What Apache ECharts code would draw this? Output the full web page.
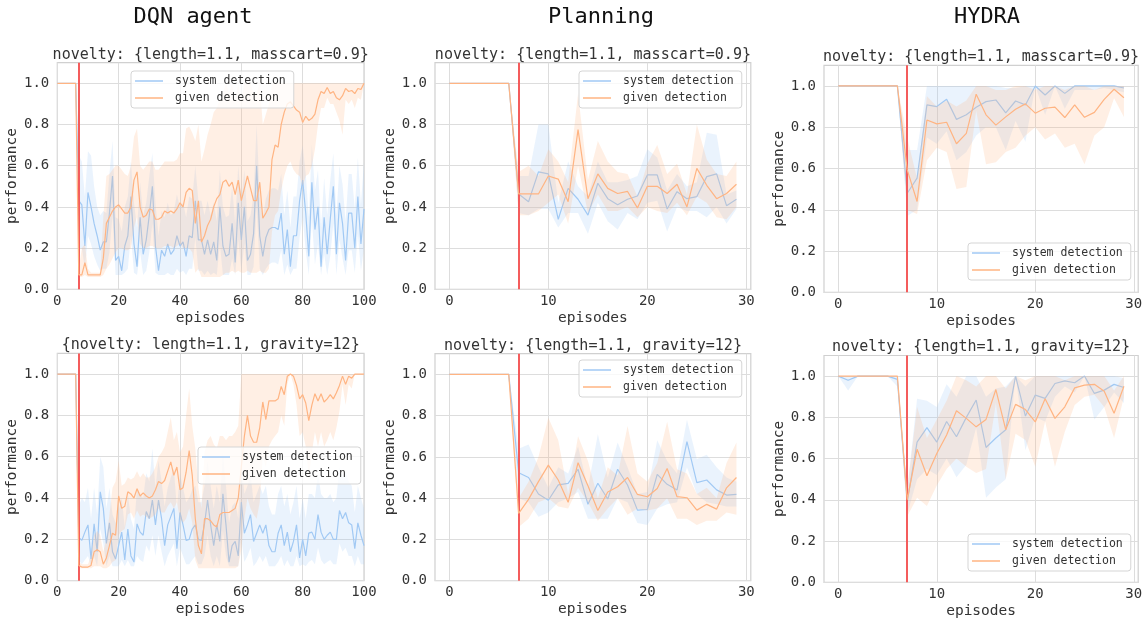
<!DOCTYPE html>
<html><head><meta charset="utf-8">
<script src="https://cdn.jsdelivr.net/npm/echarts@6/dist/echarts.min.js"></script>
<style>html,body{margin:0;padding:0;background:#fff}#c{width:1146px;height:625px}</style>
</head><body><div id="c"></div><script>
const FONT = '"DejaVu Sans Mono", monospace';
const SERIES_NAMES = ['system detection', 'given detection'];
const COLUMN_TITLES = ['DQN agent', 'Planning', 'HYDRA'];
const PANEL_TITLES = [
  'novelty: {length=1.1, masscart=0.9}', 'novelty: {length=1.1, masscart=0.9}', 'novelty: {length=1.1, masscart=0.9}',
  '{novelty: length=1.1, gravity=12}', 'novelty: {length=1.1, gravity=12}', 'novelty: {length=1.1, gravity=12}'
];
const X_TICKS_DQN = [0, 20, 40, 60, 80, 100];
const X_TICKS_SHORT = [0, 10, 20, 30];
const Y_TICKS = [0, 0.2, 0.4, 0.6, 0.8, 1.0];
const NOVELTY_EPISODE = 7;

// ---- DQN, masscart ----
const dqnMassSys = [1,1,1,1,1,1,1,
0.43,0.41,0.21,0.47,0.40,0.32,0.26,0.19,0.23,0.23,
0.37,0.55,0.14,0.16,0.09,0.21,0.26,0.45,0.22,0.11,
0.35,0.17,0.24,0.36,0.50,0.21,0.09,0.19,0.16,0.22,
0.17,0.19,0.26,0.21,0.23,0.16,0.26,0.25,0.43,0.24,
0.24,0.17,0.24,0.17,0.23,0.14,0.40,0.21,0.16,0.17,
0.32,0.13,0.42,0.24,0.40,0.14,0.17,0.27,0.60,0.26,
0.16,0.25,0.29,0.30,0.30,0.29,0.37,0.17,0.29,0.11,
0.26,0.26,0.43,0.53,0.37,0.16,0.52,0.29,0.40,0.11,
0.35,0.17,0.34,0.50,0.17,0.42,0.32,0.14,0.37,0.37,
0.20,0.45,0.22,0.39];
const dqnMassSysHi = [1,1,1,1,1,1,1,
0.65,0.62,0.45,0.67,0.65,0.50,0.40,0.36,0.38,0.37,
0.56,0.72,0.35,0.34,0.28,0.40,0.45,0.62,0.42,0.30,
0.52,0.36,0.42,0.55,0.66,0.42,0.26,0.38,0.35,0.42,
0.36,0.38,0.46,0.40,0.42,0.35,0.45,0.44,0.60,0.43,
0.43,0.36,0.43,0.36,0.42,0.33,0.58,0.40,0.35,0.36,
0.50,0.32,0.60,0.43,0.58,0.33,0.36,0.46,0.80,0.45,
0.35,0.44,0.48,0.49,0.49,0.48,0.56,0.36,0.48,0.30,
0.45,0.45,0.62,0.70,0.56,0.35,0.70,0.48,0.58,0.30,
0.54,0.36,0.53,0.66,0.36,0.60,0.51,0.33,0.56,0.56,
0.39,0.64,0.41,0.62];
const dqnMassSysLo = [1,1,1,1,1,1,1,
0.20,0.20,0.10,0.26,0.22,0.16,0.12,0.09,0.10,0.10,
0.18,0.36,0.07,0.07,0.07,0.08,0.10,0.26,0.08,0.07,
0.18,0.07,0.09,0.18,0.32,0.08,0.07,0.07,0.07,0.08,
0.07,0.07,0.10,0.08,0.09,0.07,0.10,0.10,0.25,0.09,
0.09,0.07,0.09,0.07,0.08,0.07,0.22,0.07,0.07,0.07,
0.15,0.07,0.24,0.09,0.22,0.07,0.07,0.11,0.40,0.10,
0.07,0.10,0.12,0.13,0.13,0.12,0.19,0.07,0.12,0.07,
0.10,0.10,0.25,0.35,0.19,0.07,0.34,0.12,0.22,0.07,
0.17,0.07,0.16,0.32,0.07,0.24,0.15,0.07,0.19,0.19,
0.08,0.27,0.09,0.20];
const dqnMassGiven = [1,1,1,1,1,1,1,
0.07,0.07,0.13,0.07,0.07,0.07,0.07,0.07,0.15,0.32,
0.35,0.38,0.40,0.41,0.39,0.37,0.37,0.40,0.53,0.57,
0.40,0.35,0.36,0.39,0.385,0.34,0.34,0.35,0.38,0.37,
0.38,0.37,0.39,0.42,0.40,0.47,0.49,0.48,0.32,0.43,
0.23,0.26,0.31,0.34,0.40,0.44,0.46,0.52,0.53,0.50,
0.52,0.46,0.53,0.43,0.49,0.55,0.49,0.43,0.43,0.52,
0.345,0.37,0.40,0.63,0.70,0.69,0.80,0.86,0.90,0.91,
0.89,0.87,0.86,0.81,0.84,0.82,0.83,0.85,0.92,0.96,
0.95,0.98,0.95,0.96,0.93,0.92,0.94,0.975,0.96,0.965,
0.95,0.975,0.97,1.0];
const dqnMassGivenHi = [1,1,1,1,1,1,1,
0.10,0.20,0.22,0.10,0.08,0.08,0.08,0.08,0.35,0.55,
0.56,0.58,0.60,0.60,0.58,0.56,0.55,0.60,0.74,0.78,
0.60,0.58,0.60,0.62,0.62,0.58,0.58,0.60,0.62,0.62,
0.62,0.62,0.63,0.66,0.66,0.78,0.79,0.76,0.72,0.80,
0.62,0.68,0.75,0.80,0.86,0.88,0.92,0.95,1.0,0.95,
1.0,0.92,1.0,0.92,1.0,1.0,1.0,0.95,0.95,1.0,
0.80,0.85,0.90,1.0,1.0,1.0,1.0,1.0,1.0,1.0,
1.0,1.0,1.0,1.0,1.0,1.0,1.0,1.0,1.0,1.0,
1.0,1.0,1.0,1.0,1.0,1.0,1.0,1.0,1.0,1.0,
1.0,1.0,1.0,1.0];
const dqnMassGivenLo = [1,1,1,1,1,1,1,
0.06,0.06,0.07,0.06,0.06,0.06,0.06,0.06,0.07,0.10,
0.12,0.15,0.18,0.20,0.20,0.19,0.19,0.20,0.30,0.35,
0.22,0.20,0.20,0.21,0.21,0.20,0.20,0.20,0.21,0.21,
0.21,0.20,0.21,0.22,0.20,0.20,0.20,0.18,0.08,0.10,
0.06,0.06,0.06,0.06,0.06,0.06,0.06,0.07,0.08,0.08,
0.09,0.08,0.09,0.08,0.08,0.09,0.08,0.08,0.08,0.09,
0.08,0.08,0.10,0.28,0.36,0.38,0.48,0.55,0.60,0.62,
0.58,0.56,0.55,0.50,0.55,0.56,0.60,0.68,0.80,0.88,
0.88,0.93,0.90,0.90,0.86,0.82,0.75,0.92,0.90,0.92,
0.88,0.93,0.92,1.0];

// ---- DQN, gravity ----
const dqnGravSys = [1,1,1,1,1,1,1,
0.21,0.195,0.235,0.27,0.105,0.275,0.14,0.43,0.35,0.18,
0.28,0.14,0.105,0.17,0.235,0.10,0.25,0.12,0.09,0.275,
0.235,0.22,0.335,0.30,0.39,0.27,0.39,0.30,0.17,0.27,
0.31,0.35,0.155,0.33,0.27,0.195,0.20,0.25,0.27,0.20,
0.195,0.275,0.39,0.27,0.17,0.27,0.19,0.42,0.27,0.09,
0.17,0.19,0.12,0.38,0.23,0.27,0.32,0.19,0.23,0.27,
0.23,0.27,0.17,0.14,0.14,0.23,0.27,0.17,0.235,0.14,
0.19,0.27,0.11,0.20,0.12,0.23,0.235,0.20,0.32,0.235,
0.20,0.22,0.235,0.20,0.20,0.34,0.30,0.33,0.28,0.27,
0.155,0.28,0.22,0.17];
const dqnGravSysHi = [1,1,1,1,1,1,1,
0.36,0.40,0.38,0.45,0.30,0.45,0.32,0.60,0.55,0.35,
0.45,0.32,0.28,0.34,0.40,0.26,0.42,0.30,0.25,0.45,
0.42,0.40,0.52,0.48,0.64,0.45,0.58,0.48,0.36,0.45,
0.50,0.54,0.35,0.52,0.45,0.38,0.40,0.44,0.46,0.38,
0.38,0.46,0.58,0.46,0.35,0.46,0.38,0.62,0.46,0.28,
0.36,0.38,0.30,0.58,0.42,0.46,0.52,0.38,0.42,0.46,
0.42,0.46,0.36,0.32,0.32,0.42,0.46,0.36,0.42,0.32,
0.38,0.46,0.30,0.40,0.30,0.42,0.42,0.40,0.52,0.42,
0.40,0.40,0.42,0.38,0.40,0.55,0.50,0.53,0.48,0.46,
0.33,0.46,0.40,0.35];
const dqnGravSysLo = [1,1,1,1,1,1,1,
0.10,0.08,0.10,0.12,0.07,0.12,0.07,0.25,0.18,0.07,
0.12,0.07,0.07,0.07,0.10,0.07,0.10,0.07,0.07,0.12,
0.10,0.09,0.17,0.14,0.22,0.12,0.22,0.14,0.07,0.12,
0.15,0.18,0.07,0.16,0.12,0.08,0.08,0.10,0.12,0.08,
0.08,0.12,0.22,0.12,0.07,0.12,0.07,0.24,0.12,0.07,
0.07,0.07,0.07,0.20,0.09,0.12,0.16,0.07,0.09,0.12,
0.09,0.12,0.07,0.07,0.07,0.09,0.12,0.07,0.10,0.07,
0.07,0.12,0.07,0.08,0.07,0.09,0.10,0.08,0.16,0.10,
0.08,0.09,0.10,0.08,0.08,0.18,0.14,0.16,0.12,0.12,
0.07,0.12,0.08,0.08];
const dqnGravGiven = [1,1,1,1,1,1,1,
0.074,0.066,0.066,0.066,0.074,0.14,0.15,0.14,0.08,0.11,
0.17,0.23,0.22,0.41,0.35,0.36,0.43,0.42,0.40,0.445,
0.41,0.425,0.41,0.40,0.41,0.44,0.48,0.47,0.485,0.53,
0.575,0.51,0.55,0.44,0.45,0.525,0.63,0.51,0.30,0.17,
0.13,0.30,0.30,0.29,0.27,0.26,0.32,0.33,0.33,0.33,
0.34,0.35,0.40,0.55,0.70,0.80,0.70,0.67,0.67,0.74,
0.865,0.78,0.87,0.87,0.87,0.88,0.94,0.90,0.99,1.0,
0.99,0.945,0.88,0.90,0.86,0.775,0.85,0.905,0.87,0.905,
0.865,0.88,0.90,0.88,0.91,0.945,0.99,0.95,0.99,0.98,
1.0,1.0,1.0,1.0];
const dqnGravGivenHi = [1,1,1,1,1,1,1,
0.09,0.08,0.08,0.08,0.12,0.22,0.24,0.22,0.14,0.20,
0.32,0.45,0.48,0.58,0.46,0.47,0.50,0.49,0.50,0.53,
0.50,0.52,0.50,0.50,0.52,0.55,0.60,0.62,0.65,0.72,
0.79,0.68,0.72,0.62,0.65,0.80,0.93,0.75,0.64,0.45,
0.35,0.62,0.68,0.70,0.66,0.64,0.70,0.70,0.68,0.70,
0.70,0.72,0.75,1.0,1.0,1.0,1.0,1.0,1.0,1.0,
1.0,1.0,1.0,1.0,1.0,1.0,1.0,1.0,1.0,1.0,
1.0,1.0,1.0,1.0,1.0,1.0,1.0,1.0,1.0,1.0,
1.0,1.0,1.0,1.0,1.0,1.0,1.0,1.0,1.0,1.0,
1.0,1.0,1.0,1.0];
const dqnGravGivenLo = [1,1,1,1,1,1,1,
0.06,0.06,0.06,0.06,0.06,0.07,0.07,0.07,0.06,0.06,
0.07,0.09,0.10,0.22,0.24,0.25,0.32,0.33,0.30,0.34,
0.31,0.32,0.31,0.30,0.31,0.32,0.35,0.33,0.33,0.36,
0.38,0.35,0.38,0.30,0.28,0.30,0.35,0.28,0.10,0.06,
0.06,0.06,0.06,0.06,0.06,0.06,0.06,0.06,0.06,0.06,
0.06,0.06,0.07,0.15,0.30,0.40,0.35,0.32,0.30,0.38,
0.60,0.55,0.65,0.68,0.70,0.72,0.80,0.75,0.95,1.0,
0.95,0.85,0.70,0.72,0.65,0.50,0.62,0.72,0.65,0.72,
0.65,0.68,0.72,0.68,0.74,0.82,0.95,0.85,0.95,0.93,
1.0,1.0,1.0,1.0];

// ---- Planning ----
const planMassSys = [1,1,1,1,1,1,1, 0.463,0.425,0.57,0.56,0.34,0.49,0.437,0.36,0.515,0.44, 0.41,0.437,0.453,0.555,0.555,0.39,0.474,0.44,0.45,0.547, 0.56,0.406,0.437];
const planMassSysHi = [1,1,1,1,1,1,1, 0.55,0.55,0.80,0.80,0.42,0.62,0.50,0.45,0.62,0.52, 0.52,0.53,0.55,0.68,0.64,0.48,0.56,0.50,0.52,0.76, 0.75,0.46,0.48];
const planMassSysLo = [1,1,1,1,1,1,1, 0.37,0.36,0.39,0.39,0.30,0.37,0.37,0.27,0.42,0.33, 0.29,0.37,0.34,0.42,0.43,0.28,0.40,0.38,0.38,0.35, 0.40,0.32,0.39];
const planMassGiven = [1,1,1,1,1,1,1, 0.463,0.463,0.463,0.55,0.535,0.425,0.775,0.44,0.56,0.49, 0.465,0.475,0.395,0.50,0.50,0.465,0.51,0.40,0.587,0.505, 0.44,0.465,0.51];
const planMassGivenHi = [1,1,1,1,1,1,1, 0.57,0.60,0.55,0.68,0.62,0.52,0.95,0.53,0.72,0.62, 0.57,0.56,0.45,0.61,0.70,0.56,0.61,0.46,0.80,0.63, 0.56,0.55,0.62];
const planMassGivenLo = [1,1,1,1,1,1,1, 0.36,0.36,0.38,0.42,0.46,0.32,0.60,0.37,0.46,0.38, 0.38,0.40,0.35,0.40,0.38,0.37,0.42,0.36,0.45,0.42, 0.35,0.34,0.40];
const planGravSys = [1,1,1,1,1,1,1, 0.523,0.50,0.42,0.39,0.464,0.472,0.54,0.37,0.472,0.396, 0.54,0.464,0.342,0.345,0.515,0.467,0.44,0.674,0.475,0.488, 0.44,0.415,0.418];
const planGravSysHi = [1,1,1,1,1,1,1, 0.64,0.66,0.55,0.45,0.55,0.52,0.65,0.45,0.71,0.50, 0.67,0.55,0.42,0.43,0.68,0.58,0.52,0.78,0.59,0.61, 0.55,0.50,0.48];
const planGravSysLo = [1,1,1,1,1,1,1, 0.40,0.38,0.31,0.33,0.38,0.40,0.43,0.30,0.30,0.30, 0.40,0.38,0.28,0.27,0.35,0.37,0.38,0.55,0.42,0.38, 0.37,0.36,0.36];
const planGravGiven = [1,1,1,1,1,1,1, 0.326,0.394,0.48,0.56,0.488,0.38,0.572,0.46,0.34,0.43, 0.455,0.50,0.418,0.407,0.447,0.544,0.407,0.402,0.342,0.37, 0.347,0.45,0.50];
const planGravGivenHi = [1,1,1,1,1,1,1, 0.40,0.48,0.60,0.79,0.68,0.42,0.70,0.58,0.40,0.55, 0.51,0.75,0.52,0.48,0.57,0.77,0.54,0.52,0.42,0.45, 0.40,0.57,0.67];
const planGravGivenLo = [1,1,1,1,1,1,1, 0.26,0.30,0.38,0.40,0.36,0.35,0.45,0.38,0.29,0.35, 0.40,0.32,0.35,0.34,0.35,0.40,0.30,0.30,0.27,0.29, 0.29,0.33,0.32];

// ---- HYDRA ----
const hydraMassSys = [1,1,1,1,1,1,1, 0.48,0.553,0.908,0.90,0.935,0.838,0.86,0.897,0.924,0.932, 0.87,0.927,0.908,1.0,0.956,1.0,0.964,1.0,1.0,1.0, 1.0,1.0,0.99];
const hydraMassSysHi = [1,1,1,1,1,1,1, 0.69,0.69,1.0,1.0,1.0,1.0,1.0,1.0,1.0,1.0, 0.99,0.99,1.0,1.0,1.0,1.0,1.0,1.0,1.0,1.0, 1.0,1.0,1.0];
const hydraMassSysLo = [1,1,1,1,1,1,1, 0.37,0.40,0.75,0.72,0.78,0.64,0.68,0.76,0.80,0.80, 0.69,0.83,0.73,1.0,0.86,1.0,0.89,0.98,0.98,0.98, 0.99,0.98,0.97];
const hydraMassGiven = [1,1,1,1,1,1,1, 0.593,0.44,0.835,0.816,0.824,0.72,0.77,0.96,0.86,0.81, 0.85,0.887,0.913,0.868,0.892,0.897,0.847,0.908,0.848,0.872, 0.935,0.984,0.943];
const hydraMassGivenHi = [1,1,1,1,1,1,1, 0.75,0.55,0.95,0.90,0.93,0.90,0.93,1.0,1.0,0.98, 0.98,1.0,1.0,0.98,1.0,1.0,0.98,1.0,1.0,0.98, 1.0,1.0,1.0];
const hydraMassGivenLo = [1,1,1,1,1,1,1, 0.40,0.38,0.64,0.70,0.68,0.50,0.51,0.88,0.62,0.63, 0.68,0.70,0.76,0.80,0.74,0.77,0.70,0.72,0.62,0.76, 0.80,0.94,0.85];
const hydraGravSys = [1,0.98,1,1,1,1,0.984, 0.39,0.68,0.75,0.68,0.78,0.706,0.80,0.884,0.654,0.70, 0.74,1.0,0.806,0.908,0.892,0.964,0.977,0.968,1.0,0.916, 0.932,0.96,0.945];
const hydraGravSysHi = [1,1,1,1,1,1,1, 0.45,0.89,0.88,0.85,0.96,0.90,1.0,1.0,0.90,0.94, 0.95,1.0,0.95,1.0,1.0,1.0,1.0,1.0,1.0,1.0, 1.0,1.0,0.99];
const hydraGravSysLo = [1,0.93,1,1,1,1,0.95, 0.33,0.50,0.55,0.52,0.60,0.51,0.57,0.75,0.41,0.46, 0.50,1.0,0.64,0.80,0.78,0.90,0.95,0.92,1.0,0.79, 0.85,0.92,0.87];
const hydraGravGiven = [1,1,1,1,1,1,1, 0.40,0.645,0.517,0.625,0.714,0.832,0.795,0.754,0.79,0.935, 0.74,0.863,0.838,0.778,0.89,0.795,0.851,0.943,0.956,0.96, 0.927,0.82,0.951];
const hydraGravGivenHi = [1,1,1,1,1,1,1, 0.45,0.85,0.70,0.79,0.88,1.0,0.98,0.95,1.0,1.0, 0.94,1.0,0.98,1.0,1.0,1.0,0.98,1.0,1.0,1.0, 1.0,0.93,1.0];
const hydraGravGivenLo = [1,1,1,1,1,1,1, 0.32,0.41,0.37,0.47,0.55,0.60,0.56,0.53,0.55,0.87, 0.50,0.72,0.69,0.56,0.78,0.56,0.73,0.86,0.90,0.91, 0.85,0.70,0.90];

// ---- styles / layout ----
const BLUE = '#a1c9f4', ORANGE = '#ffb482';
const BLUE_FILL = 'rgba(161,201,244,0.22)', ORANGE_FILL = 'rgba(255,180,130,0.22)';
const RED = '#f45c5c';

const PANELS = [
  {sys:[dqnMassSys,dqnMassSysLo,dqnMassSysHi], giv:[dqnMassGiven,dqnMassGivenLo,dqnMassGivenHi], xr:[0,100], xt:X_TICKS_DQN,
   grid:{left:57.3, top:62.7, width:306.7, height:226.6}, legend:{left:131, top:71}},
  {sys:[planMassSys,planMassSysLo,planMassSysHi], giv:[planMassGiven,planMassGivenLo,planMassGivenHi], xr:[-1.45,30.45], xt:X_TICKS_SHORT,
   grid:{left:435, top:62.7, width:315.8, height:226.6}, legend:{left:579, top:71}},
  {sys:[hydraMassSys,hydraMassSysLo,hydraMassSysHi], giv:[hydraMassGiven,hydraMassGivenLo,hydraMassGivenHi], xr:[-1.45,30.45], xt:X_TICKS_SHORT,
   grid:{left:824, top:65.3, width:314.2, height:227}, legend:{left:968, top:243}},
  {sys:[dqnGravSys,dqnGravSysLo,dqnGravSysHi], giv:[dqnGravGiven,dqnGravGivenLo,dqnGravGivenHi], xr:[0,100], xt:X_TICKS_DQN,
   grid:{left:57.3, top:353.4, width:306.7, height:227.3}, legend:{left:198, top:447}},
  {sys:[planGravSys,planGravSysLo,planGravSysHi], giv:[planGravGiven,planGravGivenLo,planGravGivenHi], xr:[-1.45,30.45], xt:X_TICKS_SHORT,
   grid:{left:435, top:353.7, width:315.8, height:227}, legend:{left:579, top:360}},
  {sys:[hydraGravSys,hydraGravSysLo,hydraGravSysHi], giv:[hydraGravGiven,hydraGravGivenLo,hydraGravGivenHi], xr:[-1.45,30.45], xt:X_TICKS_SHORT,
   grid:{left:824, top:355.5, width:314.2, height:226.8}, legend:{left:968, top:534}}
];
const COLUMN_TITLE_X = [193, 601, 987];

function bandSeries(idx, lo, hi, fill, z) {
  const data = lo.map((l, i) => [i, l, hi[i]]);
  return {
    type: 'custom', name: '_band' + idx + fill, xAxisIndex: idx, yAxisIndex: idx, z, silent: true, clip: true,
    data, encode: {x: 0, y: [1, 2]}, animation: false,
    renderItem(params, api) {
      if (params.dataIndex !== 0) return null;
      const pts = [];
      for (let i = 0; i < data.length; i++) pts.push(api.coord([data[i][0], data[i][2]]));
      for (let i = data.length - 1; i >= 0; i--) pts.push(api.coord([data[i][0], data[i][1]]));
      return {type: 'polygon', shape: {points: pts}, style: {fill, stroke: null}};
    }
  };
}
function lineSeries(idx, name, vals, color, z, withRed) {
  const s = {
    type: 'line', name, xAxisIndex: idx, yAxisIndex: idx, z, symbol: 'none', showSymbol: false,
    data: vals.map((v, i) => [i, v]), lineStyle: {width: 1.2, color}, itemStyle: {color},
    emphasis: {disabled: true}, animation: false
  };
  if (withRed) {
    s.markLine = {
      silent: true, symbol: ['none', 'none'], label: {show: false}, animation: false,
      lineStyle: {color: RED, width: 2, type: 'solid', opacity: 1},
      emphasis: {disabled: true},
      data: [{xAxis: NOVELTY_EPISODE}]
    };
  }
  return s;
}

const grids = [], xAxes = [], yAxes = [], series = [], legends = [], graphics = [];
PANELS.forEach((p, i) => {
  grids.push(Object.assign({show: true, borderColor: '#d0d0d0', borderWidth: 1.2, backgroundColor: '#fff', containLabel: false}, p.grid));
  xAxes.push({
    gridIndex: i, type: 'value', min: p.xr[0], max: p.xr[1],
    axisLine: {show: false}, axisTick: {show: false, customValues: p.xt},
    axisLabel: {customValues: p.xt, fontFamily: FONT, fontSize: 14, color: '#333', margin: 5},
    splitLine: {show: true, lineStyle: {color: '#dddddd', width: 1}},
    name: 'episodes', nameLocation: 'middle', nameGap: 21,
    nameTextStyle: {fontFamily: FONT, fontSize: 14.5, color: '#333'}
  });
  yAxes.push({
    gridIndex: i, type: 'value', min: 0, max: 1.1,
    axisLine: {show: false}, axisTick: {show: false, customValues: Y_TICKS},
    axisLabel: {customValues: Y_TICKS, fontFamily: FONT, fontSize: 14, color: '#333', margin: 8, formatter: v => v.toFixed(1)},
    splitLine: {show: true, lineStyle: {color: '#dddddd', width: 1}},
    name: 'performance', nameLocation: 'middle', nameGap: 30,
    nameTextStyle: {fontFamily: FONT, fontSize: 14.5, color: '#333'}
  });
  series.push(bandSeries(i, p.sys[1], p.sys[2], BLUE_FILL, 2));
  series.push(lineSeries(i, SERIES_NAMES[0], p.sys[0], BLUE, 3, false));
  series.push(bandSeries(i, p.giv[1], p.giv[2], ORANGE_FILL, 4));
  series.push(lineSeries(i, SERIES_NAMES[1], p.giv[0], ORANGE, 5, true));
  legends.push({
    orient: 'vertical', left: p.legend.left, top: p.legend.top, data: SERIES_NAMES, selectedMode: false,
    icon: 'rect', itemWidth: 28, itemHeight: 1.5, itemGap: 5, padding: [4, 8, 4, 4],
    backgroundColor: 'rgba(255,255,255,0.8)', borderColor: '#d5d5d5', borderWidth: 1, borderRadius: 3,
    textStyle: {fontFamily: FONT, fontSize: 11.5, color: '#333', padding: [0, 0, 0, 7]}, z: 10
  });
  const g = p.grid;
  graphics.push({
    type: 'text', x: g.left + g.width / 2, y: g.top - 8, silent: true,
    style: {text: PANEL_TITLES[i], font: '15px ' + FONT, fill: '#333', textAlign: 'center', textVerticalAlign: 'middle'}
  });
});
COLUMN_TITLES.forEach((t, i) => {
  graphics.push({
    type: 'text', x: COLUMN_TITLE_X[i], y: 17, silent: true,
    style: {text: t, font: '22px ' + FONT, fill: '#111', textAlign: 'center', textVerticalAlign: 'middle'}
  });
});

const chart = echarts.init(document.getElementById('c'), null, {renderer: 'canvas'});
chart.setOption({
  animation: false, backgroundColor: '#fff',
  grid: grids, xAxis: xAxes, yAxis: yAxes, series, legend: legends, graphic: graphics
});
</script></body></html>
